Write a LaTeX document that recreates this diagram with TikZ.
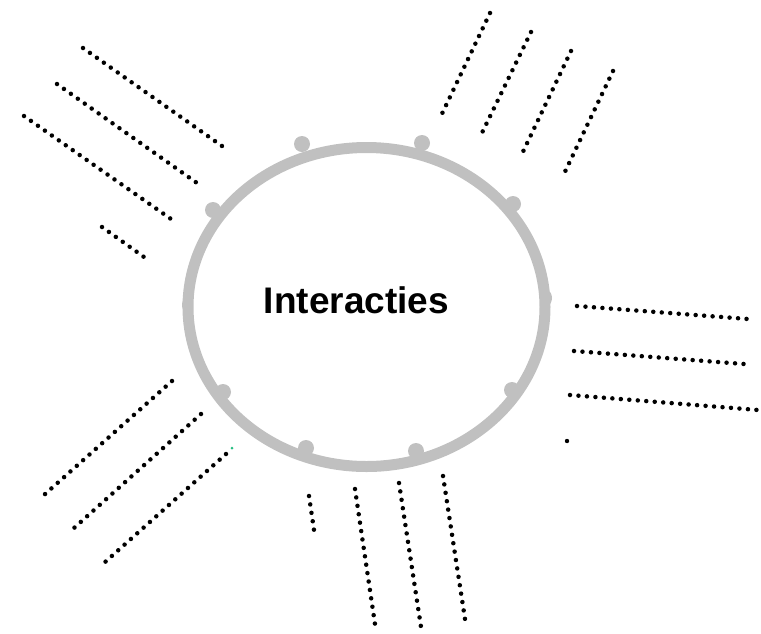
\documentclass[tikz,border=0pt]{standalone}
\usepackage{fontspec}
\setmainfont{Liberation Sans}
\definecolor{ringgray}{RGB}{192,192,192}
\definecolor{specgreen}{RGB}{40,190,130}
\tikzset{
    dotline/.style={line width=4.5pt,line cap=round,dash pattern=on 0pt off 8.5pt},
    ring/.style={draw=ringgray,line width=11pt},
    bump/.style={fill=ringgray},
}
\begin{document}
\begin{tikzpicture}[x=1pt,y=-1pt]
            \useasboundingbox (0,0) rectangle (761,633);
            % ring with the small bumps
            \draw[ring] (366.5,307) ellipse [x radius=178.5pt, y radius=159.5pt];
            \foreach \p in {(302,144),(422,143),(513,204),(512,390),(416,451),(306,448),(223,392),(213,210)}
                \fill[bump] \p circle (8pt);
            \fill[bump] (547,298) ellipse [x radius=5pt, y radius=7.5pt];
            \fill[bump] (187,305) ellipse [x radius=5pt, y radius=7.5pt];
            \node[anchor=base,inner sep=0pt,font=\fontsize{37}{40}\selectfont\bfseries] (title) at (356.5,313) {Interacties};
            % top left
            \draw[dotline] (83,48) -- (222,146);
            \draw[dotline] (57,84) -- (197,183);
            \draw[dotline] (24,116) -- (171,219);
            \draw[dotline] (102,227) -- (144,257);
            % top right
            \draw[dotline] (490,13) -- (439,120);
            \draw[dotline] (531,32) -- (479,139);
            \draw[dotline] (571,51) -- (520,158);
            \draw[dotline] (613,71) -- (562,178);
            % right
            \draw[dotline] (577,306) -- (748,319);
            \draw[dotline] (574,351) -- (744,364);
            \draw[dotline] (570,395) -- (758,410);
            \fill (567,441) circle (2.2pt);
            % bottom left
            \draw[dotline] (172,381) -- (44,495);
            \draw[dotline] (201,414) -- (74,528);
            \draw[dotline] (226,454) -- (104,563);
            \fill[specgreen] (232,448) circle (1.5pt);
            % bottom
            \draw[dotline] (309,496) -- (314,530);
            \draw[dotline] (355,489) -- (376,631);
            \draw[dotline] (399,483) -- (421,627);
            \draw[dotline] (443,476) -- (465,619);
\end{tikzpicture}
\end{document}
